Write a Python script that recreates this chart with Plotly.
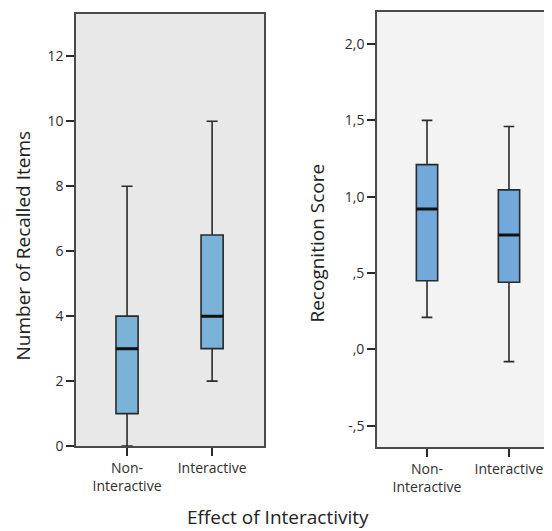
import plotly.graph_objects as go

categories = ["Non-<br>Interactive", "Interactive"]
cat_pos = [0, 1]

# Left panel: Number of Recalled Items
recall_min = [0, 2]
recall_q1 = [1, 3]
recall_median = [3, 4]
recall_q3 = [4, 6.5]
recall_max = [8, 10]
recall_ticks = [0, 2, 4, 6, 8, 10, 12]
recall_ticktext = ["0", "2", "4", "6", "8", "10", "12"]

# Right panel: Recognition Score
recog_min = [0.21, -0.08]
recog_q1 = [0.45, 0.44]
recog_median = [0.92, 0.75]
recog_q3 = [1.21, 1.045]
recog_max = [1.50, 1.46]
recog_ticks = [-0.5, 0.0, 0.5, 1.0, 1.5, 2.0]
recog_ticktext = ["-,5", ",0", ",5", "1,0", "1,5", "2,0"]

BOXW = 0.26
FONT = "Open Sans"
LINE = "#2a2a2a"
FRAME = "#4a4a4a"

# page offset compensation (empirical)
OFFX = 8
OFFY, SY = 7, 0.985
W, H = 552 - 2 * OFFX, 531

def px(x):
    return (x - OFFX) / W

def py(y):
    return 1 - ((y - OFFY) / SY) / H

fig = go.Figure()

def add_panel(xa, ya, mins, q1s, meds, q3s, maxs, fill):
    for i, x in enumerate(cat_pos):
        fig.add_trace(go.Box(
            x=[x], q1=[q1s[i]], median=[meds[i]], q3=[q3s[i]],
            lowerfence=[mins[i]], upperfence=[maxs[i]],
            width=BOXW, whiskerwidth=0.5,
            fillcolor=fill, line=dict(color=LINE, width=1.6),
            xaxis=xa, yaxis=ya, showlegend=False, hoverinfo="skip",
        ))
        fig.add_trace(go.Scatter(
            x=[x - BOXW / 2, x + BOXW / 2], y=[meds[i], meds[i]],
            mode="lines", line=dict(color="#111111", width=3),
            xaxis=xa, yaxis=ya, showlegend=False, hoverinfo="skip",
        ))

add_panel("x", "y", recall_min, recall_q1, recall_median, recall_q3, recall_max, "#7ab3d7")
add_panel("x2", "y2", recog_min, recog_q1, recog_median, recog_q3, recog_max, "#72a8da")

def axis(mirror=True):
    return dict(
        showline=True, linecolor=FRAME, linewidth=1.6, mirror=mirror,
        ticks="outside", ticklen=8, tickwidth=1.6, tickcolor=LINE,
        showgrid=False, zeroline=False,
        tickfont=dict(family=FONT, size=14, color="#2e2e2e"),
    )

fig.update_layout(
    width=W, height=H,
    margin=dict(l=0, r=0, t=0, b=0),
    paper_bgcolor="white",
    font=dict(family=FONT, color="#222222"),
    xaxis=dict(domain=[px(76), px(264)], range=[-0.6, 1.61],
               tickvals=cat_pos, ticktext=categories, **axis()),
    yaxis=dict(domain=[py(446), py(13)], range=[0, 13.3],
               tickvals=recall_ticks, ticktext=recall_ticktext, **axis()),
    xaxis2=dict(domain=[px(377), 1.0], range=[-0.61, 1.427], anchor="y2",
                tickvals=cat_pos, ticktext=categories, **axis(True)),
    yaxis2=dict(domain=[py(447), py(11)], range=[-0.64, 2.21], anchor="x2",
                tickvals=recog_ticks, ticktext=recog_ticktext, **axis(False)),
    shapes=[
        dict(type="rect", xref="x domain", yref="y domain", x0=0, x1=1, y0=0, y1=1,
             fillcolor="#e8e8e8", line=dict(width=0), layer="below"),
        dict(type="rect", xref="x2 domain", yref="y2 domain", x0=0, x1=1, y0=0, y1=1,
             fillcolor="#f3f3f4", line=dict(width=0), layer="below"),
    ],
    annotations=[
        dict(text="Number of Recalled Items", textangle=-90, xref="paper", yref="paper",
             x=px(23), y=py(245), xanchor="center", yanchor="middle", showarrow=False,
             font=dict(family=FONT, size=19, color="#222222")),
        dict(text="Recognition Score", textangle=-90, xref="paper", yref="paper",
             x=px(317), y=py(243), xanchor="center", yanchor="middle", showarrow=False,
             font=dict(family=FONT, size=19, color="#222222")),
        dict(text="Effect of Interactivity", xref="paper", yref="paper",
             x=px(278), y=py(517), xanchor="center", yanchor="middle", showarrow=False,
             font=dict(family=FONT, size=19, color="#222222")),
    ],
)

fig.write_html("out.html")
